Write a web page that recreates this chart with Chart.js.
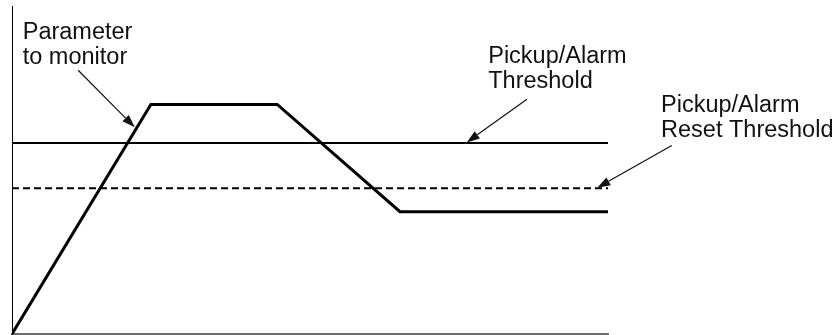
<!DOCTYPE html>
<html>
<head>
<meta charset="utf-8">
<script src="https://cdn.jsdelivr.net/npm/chart.js"></script>
<style>
  html, body { margin: 0; padding: 0; background: #fff; }
  #wrap { width: 840px; height: 335px; position: relative; }
</style>
</head>
<body>
<div id="wrap"><canvas id="chart"></canvas></div>
<script>
// parameter trace (x in % of time span, y in % of range)
const paramX = [0, 23.3, 44.5, 65.1, 100];
const paramY = [0, 70, 70, 37.3, 37.3];

// threshold levels
const pickupLevel = 58.2;
const resetLevel = 44.4;
const thresholdX = [0, 100];

// callout labels
const labelText = [
    ['Parameter', 'to monitor'],
    ['Pickup/Alarm', 'Threshold'],
    ['Pickup/Alarm', 'Reset Threshold']
];

const toPoints = (xs, ys) => xs.map((x, i) => ({ x: x, y: ys[i] }));

// draws text callouts + arrows in data coords
const calloutPlugin = {
    id: 'callouts',
    afterDraw(chart, args, opts) {
        const ctx = chart.ctx;
        const xs = chart.scales.x, ys = chart.scales.y;
        ctx.save();
        ctx.fillStyle = '#111';
        ctx.strokeStyle = '#111';
        ctx.font = opts.font;
        ctx.textBaseline = 'alphabetic';
        ctx.textAlign = 'left';
        opts.labels.forEach((lab, i) => {
            const px = xs.getPixelForValue(lab.x);
            const py = ys.getPixelForValue(lab.y);
            labelText[i].forEach((line, j) => {
                ctx.fillText(line, px, py + j * opts.lineGap);
            });
        });
        opts.arrows.forEach(a => {
            const x0 = xs.getPixelForValue(a.from[0]), y0 = ys.getPixelForValue(a.from[1]);
            const x1 = xs.getPixelForValue(a.to[0]), y1 = ys.getPixelForValue(a.to[1]);
            const ang = Math.atan2(y1 - y0, x1 - x0);
            const hl = 13, hw = 4.5;
            ctx.lineWidth = 1.2;
            ctx.beginPath();
            ctx.moveTo(x0, y0);
            ctx.lineTo(x1 - Math.cos(ang) * hl, y1 - Math.sin(ang) * hl);
            ctx.stroke();
            ctx.beginPath();
            ctx.moveTo(x1, y1);
            ctx.lineTo(x1 - Math.cos(ang) * hl - Math.sin(ang) * hw, y1 - Math.sin(ang) * hl + Math.cos(ang) * hw);
            ctx.lineTo(x1 - Math.cos(ang) * hl + Math.sin(ang) * hw, y1 - Math.sin(ang) * hl - Math.cos(ang) * hw);
            ctx.closePath();
            ctx.fill();
        });
        ctx.restore();
    }
};

new Chart(document.getElementById('chart'), {
    type: 'line',
    data: {
        datasets: [{
            label: 'Parameter',
            data: toPoints(paramX, paramY),
            borderColor: '#000',
            borderWidth: 3,
            pointRadius: 0,
            borderJoinStyle: 'miter',
            tension: 0
        }, {
            label: 'Pickup/Alarm Threshold',
            data: toPoints(thresholdX, [pickupLevel, pickupLevel]),
            borderColor: '#000',
            borderWidth: 2,
            pointRadius: 0
        }, {
            label: 'Pickup/Alarm Reset Threshold',
            data: toPoints(thresholdX, [resetLevel, resetLevel]),
            borderColor: '#000',
            borderWidth: 2,
            borderDash: [7, 4],
            pointRadius: 0
        }]
    },
    options: {
        responsive: true,
        maintainAspectRatio: false,
        animation: false,
        layout: { padding: { left: 12, right: 232, top: 6, bottom: 1 } },
        scales: {
            x: {
                type: 'linear',
                min: 0,
                max: 100,
                grid: { display: false, drawTicks: false },
                ticks: { display: false },
                border: { display: true, color: '#6e6e6e', width: 2 }
            },
            y: {
                min: 0,
                max: 100,
                grid: { display: false, drawTicks: false },
                ticks: { display: false },
                border: { display: true, color: '#000', width: 1 }
            }
        },
        plugins: {
            legend: { display: false },
            tooltip: { enabled: false },
            callouts: {
                font: '23.5px "Liberation Sans", Arial, sans-serif',
                lineGap: 25,
                labels: [
                    { x: 1.8, y: 89.9 },
                    { x: 79.9, y: 82.6 },
                    { x: 108.9, y: 67.6 }
                ],
                arrows: [
                    { from: [11.1, 80.4], to: [20.6, 63.0] },
                    { from: [86.4, 71.6], to: [76.3, 58.4] },
                    { from: [110.7, 57.5], to: [98.2, 44.6] }
                ]
            }
        }
    },
    plugins: [calloutPlugin]
});
</script>
</body>
</html>
